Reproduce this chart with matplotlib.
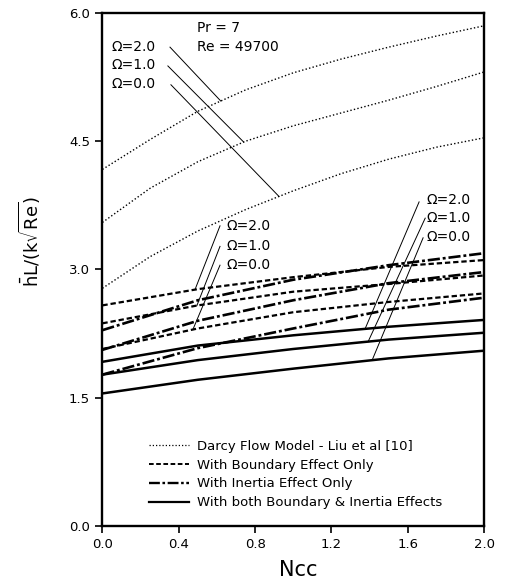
import numpy as np
import matplotlib
matplotlib.use("Agg")
import matplotlib.pyplot as plt
from matplotlib.lines import Line2D

plt.rcParams['font.family'] = ['DejaVu Sans']

# Darcy flow model curves (read at these Ncc)
ncc_d = [0.0, 0.25, 0.5, 0.75, 1.0, 1.25, 1.5, 1.75, 2.0]
darcy_w2 = [4.17, 4.52, 4.85, 5.10, 5.30, 5.46, 5.60, 5.73, 5.85]
darcy_w1 = [3.55, 3.95, 4.26, 4.50, 4.68, 4.83, 4.98, 5.14, 5.31]
darcy_w0 = [2.78, 3.15, 3.45, 3.70, 3.92, 4.12, 4.29, 4.43, 4.54]

# the other three models
ncc = [0.0, 0.5, 1.0, 1.5, 2.0]
bound_w2 = [2.58, 2.77, 2.91, 3.03, 3.11]
bound_w1 = [2.37, 2.58, 2.74, 2.83, 2.93]
bound_w0 = [2.07, 2.31, 2.50, 2.62, 2.72]
inert_w2 = [2.29, 2.64, 2.88, 3.05, 3.19]
inert_w1 = [2.06, 2.40, 2.64, 2.84, 2.97]
inert_w0 = [1.77, 2.08, 2.31, 2.53, 2.67]
both_w2 = [1.92, 2.11, 2.23, 2.33, 2.41]
both_w1 = [1.77, 1.94, 2.07, 2.18, 2.26]
both_w0 = [1.55, 1.71, 1.84, 1.96, 2.05]

omega_labels = ['\u03a9=2.0', '\u03a9=1.0', '\u03a9=0.0']
legend_labels = ['Darcy Flow Model - Liu et al [10]',
                 'With Boundary Effect Only',
                 'With Inertia Effect Only',
                 'With both Boundary & Inertia Effects']

dot = (0, (1, 1.6))
dash = (0, (2.4, 1.3))
dashdot = (0, (4.6, 1.1, 1.1, 1.1))

fig = plt.figure(figsize=(5.07, 5.83), dpi=100)
ax = fig.add_axes([0.202, 0.0978, 0.753, 0.880])

for y in [darcy_w2, darcy_w1, darcy_w0]:
    ax.plot(ncc_d, y, color='black', lw=1.0, ls=dot)
for y in [bound_w2, bound_w1, bound_w0]:
    ax.plot(ncc, y, color='black', lw=1.6, ls=dash)
for y in [inert_w2, inert_w1, inert_w0]:
    ax.plot(ncc, y, color='black', lw=1.9, ls=dashdot)
for y in [both_w2, both_w1, both_w0]:
    ax.plot(ncc, y, color='black', lw=1.8, ls='-')

# label groups: (text x, text ys, leader starts, leader target x, target curves)
groups = [
    (0.048, [5.60, 5.39, 5.17], [(0.354, 5.60), (0.343, 5.38), (0.359, 5.16)],
     [0.62, 0.74, 0.925], [(ncc_d, darcy_w2), (ncc_d, darcy_w1), (ncc_d, darcy_w0)]),
    (0.650, [3.51, 3.27, 3.05], [(0.616, 3.51), (0.616, 3.27), (0.616, 3.05)],
     [0.485, 0.495, 0.474], [(ncc, bound_w2), (ncc, bound_w1), (ncc, bound_w0)]),
    (1.700, [3.81, 3.60, 3.38], [(1.659, 3.79), (1.691, 3.60), (1.680, 3.37)],
     [1.376, 1.392, 1.413], [(ncc, both_w2), (ncc, both_w1), (ncc, both_w0)]),
]
for tx, tys, starts, targets, curves in groups:
    for lab, ty, st, tg, (cx, cy) in zip(omega_labels, tys, starts, targets, curves):
        ax.text(tx, ty, lab, fontsize=10, ha='left', va='center')
        ax.plot([st[0], tg], [st[1], np.interp(tg, cx, cy)], color='black', lw=0.7)

ax.text(0.495, 5.82, 'Pr = 7', fontsize=10, va='center')
ax.text(0.495, 5.60, 'Re = 49700', fontsize=10, va='center')

handles = [Line2D([], [], color='black', lw=0.9, ls=dot),
           Line2D([], [], color='black', lw=1.4, ls=dash),
           Line2D([], [], color='black', lw=1.7, ls=dashdot),
           Line2D([], [], color='black', lw=1.6, ls='-')]
ax.legend(handles, legend_labels, loc='lower left', bbox_to_anchor=(0.105, 0.02),
          frameon=False, fontsize=9.5, handlelength=3.0, handletextpad=0.6,
          labelspacing=0.43, borderpad=0)

ax.set_xlim(0, 2.0)
ax.set_ylim(0, 6.0)
ax.set_xticks([0.0, 0.4, 0.8, 1.2, 1.6, 2.0])
ax.set_yticks([0.0, 1.5, 3.0, 4.5, 6.0])
ax.xaxis.set_major_formatter(matplotlib.ticker.FormatStrFormatter('%.1f'))
ax.yaxis.set_major_formatter(matplotlib.ticker.FormatStrFormatter('%.1f'))
ax.tick_params(direction='out', length=5, width=1.2, labelsize=9.5, pad=4)
for s in ax.spines.values():
    s.set_linewidth(1.7)

ax.set_xlabel('Ncc', fontsize=15)
ax.xaxis.set_label_coords(0.512, -0.066)
ax.set_ylabel(r'$\mathregular{\bar{h}L/(k\sqrt{Re})}$', fontsize=13)
ax.yaxis.set_label_coords(-0.156, 0.555)

fig.savefig('out.png', dpi=100)
